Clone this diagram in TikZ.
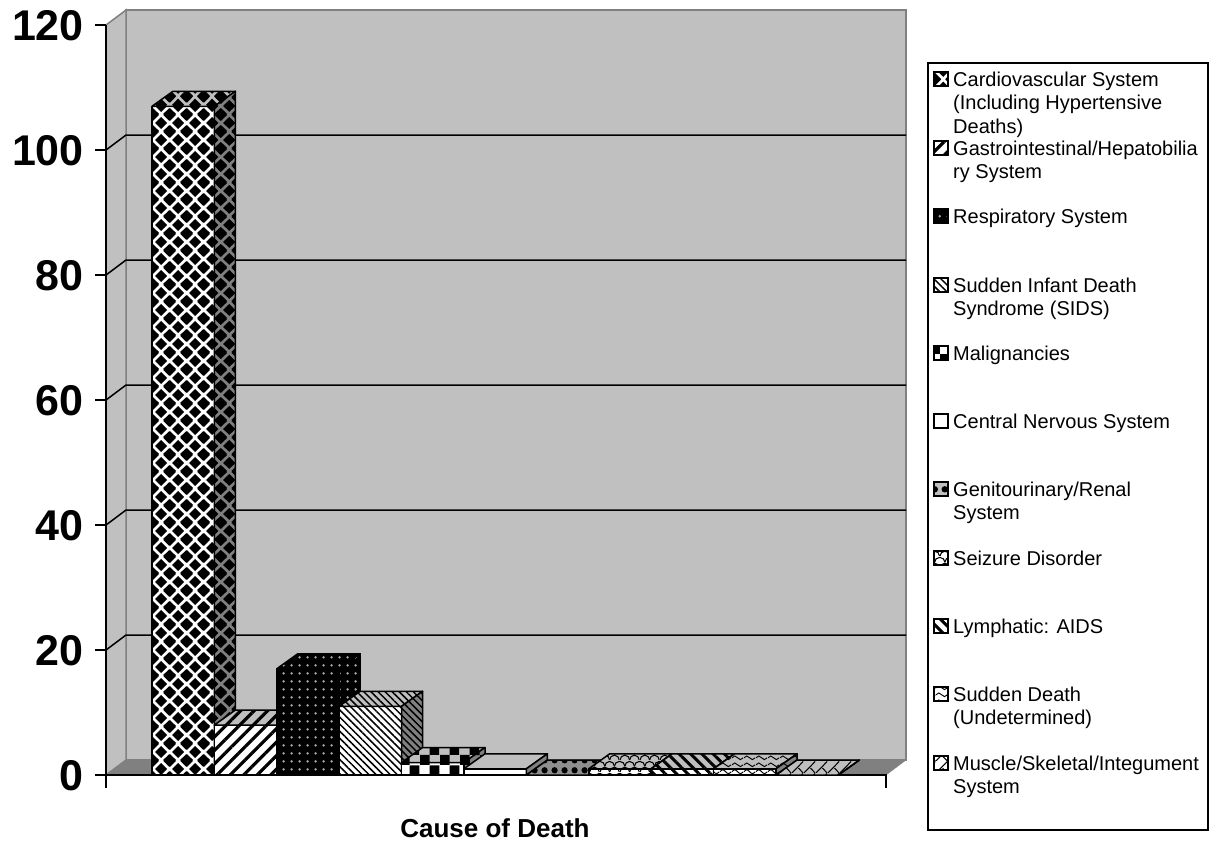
\documentclass[tikz,border=0pt]{standalone}
\usepackage{fontspec}
\setmainfont{Liberation Sans}
\usetikzlibrary{patterns.meta}

\definecolor{wallgray}{RGB}{192,192,192}
\definecolor{floorgray}{RGB}{128,128,128}

% fill patterns of the bars
\tikzdeclarepattern{name=diamondpat, type=uncolored,
  bottom left={(0pt,0pt)}, top right={(17pt,17pt)}, tile size={(17pt,17pt)},
  code={\tikzset{x=1pt,y=1pt}
    \foreach \cx/\cy in {0/0,17/0,0/17,17/17,8.5/8.5}
      \fill (\cx-6.3,\cy) -- (\cx,\cy-6.3) -- (\cx+6.3,\cy) -- (\cx,\cy+6.3) -- cycle;}}
\tikzdeclarepattern{name=checkpat, type=uncolored,
  bottom left={(0pt,0pt)}, top right={(20pt,20pt)}, tile size={(20pt,20pt)},
  code={\tikzset{x=1pt,y=1pt}
    \fill (0,0) rectangle (10,10); \fill (10,10) rectangle (20,20);}}
\tikzdeclarepattern{name=dotpat, type=uncolored,
  bottom left={(0pt,0pt)}, top right={(8pt,8pt)}, tile size={(8pt,8pt)},
  code={\tikzset{x=1pt,y=1pt} \fill (4,4) circle[radius=1.5];}}
\tikzdeclarepattern{name=circpat, type=uncolored,
  bottom left={(0pt,0pt)}, top right={(10pt,10pt)}, tile size={(10pt,10pt)},
  code={\tikzset{x=1pt,y=1pt} \fill (5,5) circle[radius=3.4];}}
\tikzdeclarepattern{name=scalpat, type=uncolored,
  bottom left={(0pt,0pt)}, top right={(20pt,12pt)}, tile size={(20pt,12pt)},
  code={\tikzset{x=1pt,y=1pt}
    \foreach \cx/\cy in {0/1,10/1,-5/7,5/7,15/7}
      \draw[line width=1.1pt] (\cx,\cy) arc[start angle=180,end angle=0,radius=5];}}
\tikzdeclarepattern{name=wavepat, type=uncolored,
  bottom left={(0pt,0pt)}, top right={(12pt,7pt)}, tile size={(12pt,7pt)},
  code={\tikzset{x=1pt,y=1pt}
    \draw[line width=1pt] (0,3.5) sin (3,5.5) cos (6,3.5) sin (9,1.5) cos (12,3.5);}}
\tikzdeclarepattern{name=zigpat, type=uncolored,
  bottom left={(0pt,0pt)}, top right={(12pt,12pt)}, tile size={(12pt,12pt)},
  code={\tikzset{x=1pt,y=1pt}
    \draw[line width=1.1pt] (0,0) -- (12,12); \draw[line width=1.1pt] (12,0) -- (7,5);}}

\begin{document}
\begin{tikzpicture}[x=1pt, y=-1pt,
    wall/.style={fill=wallgray, draw=floorgray, line width=1.5pt},
    gridline/.style={line width=1.5pt},
    axis/.style={line width=1.6pt},
    barface/.style={draw, line width=1.5pt, line join=round},
    ylabel/.style={anchor=east, inner sep=0pt,
      font=\fontsize{43}{43}\selectfont\bfseries},
    keybox/.style={draw, line width=1.2pt, minimum width=14pt,
      minimum height=14pt, inner sep=0pt},
    legtext/.style={anchor=north west, align=left, inner sep=0pt,
      font=\fontsize{20}{23.5}\selectfont},
    cvs/.style={pattern=diamondpat},
    gis/.style={pattern={Lines[angle=45,distance=9.5pt,line width=3.2pt]}},
    res/.style={pattern=dotpat, pattern color=gray!70},
    sid/.style={pattern={Lines[angle=-45,distance=5pt,line width=1.5pt]}},
    mal/.style={pattern=checkpat},
    cns/.style={},
    gen/.style={pattern=circpat},
    sei/.style={pattern=scalpat},
    lym/.style={pattern={Lines[angle=-45,distance=8pt,line width=3pt]}},
    sud/.style={pattern=wavepat},
    mus/.style={pattern=zigpat} ]
  \useasboundingbox (0,0) rectangle (1220,844);

  % back wall, side wall and floor
  \path[wall] (126,10) rectangle (906,760);
  \path[wall] (106,25) -- (126,10) -- (126,760) -- (106,775) -- cycle;
  \path[fill=floorgray, draw=floorgray] (106,775) -- (886,775) -- (906,760)
    -- (126,760) -- cycle;
  \foreach \k in {1,...,5}
    \draw[gridline] (106,775-125*\k) -- (126,760-125*\k) -- (906,760-125*\k);

  % axes
  \draw[axis] (106,25) -- (106,788);
  \draw[axis] (106,775) -- (886,775) -- (886,788);
  \foreach \k in {0,...,6} {
    \draw[axis] (95,775-125*\k) -- (106,775-125*\k);
    \pgfmathtruncatemacro\v{20*\k}
    \node[ylabel] (y\k) at (84,776-125*\k) {\v};
  }
  \node[font=\fontsize{26}{26}\selectfont\bfseries] (title) at (495,828)
    {Cause of Death};

  % bars
  \foreach \i/\h/\pat/\bg in {1/107/cvs/white,2/8/gis/white,3/17/res/black,
      4/11/sid/white,5/2/mal/white,6/1/cns/white,7/0/gen/lightgray,
      8/1/sei/white,9/1/lym/white,10/1/sud/white,11/0/mus/white} {
    \pgfmathsetmacro\xl{152+(\i-1)*62.4}
    \pgfmathsetmacro\xr{\xl+62.4}
    \pgfmathsetmacro\yt{775-\h*6.25}
    \path[barface, preaction={fill=\bg}, \pat] (\xl,775) rectangle (\xr,\yt);
    \path[barface, preaction={fill=\bg!75!black}, \pat] (\xl,\yt)
      -- (\xl+21,\yt-15) -- (\xr+21,\yt-15) -- (\xr,\yt) -- cycle;
    \path[barface, preaction={fill=\bg!50!black}, \pat] (\xr,775)
      -- (\xr,\yt) -- (\xr+21,\yt-15) -- (\xr+21,760) -- cycle;
  }

  % legend
  \draw[line width=1.6pt] (928,63) rectangle (1208,830);
  \foreach \i/\y/\pat/\bg/\txt in {
      1/79/cvs/white/{Cardiovascular System\\(Including Hypertensive\\Deaths)},
      2/148/gis/white/{Gastrointestinal/Hepatobilia\\ry System},
      3/216/res/black/{Respiratory System},
      4/285/sid/white/{Sudden Infant Death\\Syndrome (SIDS)},
      5/353/mal/white/{Malignancies},
      6/421/cns/white/{Central Nervous System},
      7/489/gen/lightgray/{Genitourinary/Renal\\System},
      8/558/sei/white/{Seizure Disorder},
      9/626/lym/white/{Lymphatic: AIDS},
      10/694/sud/white/{Sudden Death\\(Undetermined)},
      11/763/mus/white/{Muscle/Skeletal/Integument\\System}} {
    \node[keybox, preaction={fill=\bg}, \pat] (k\i) at (941,\y) {};
    \node[legtext] (l\i) at (953,\y-7.3) {\txt};
  }
\end{tikzpicture}
\end{document}
